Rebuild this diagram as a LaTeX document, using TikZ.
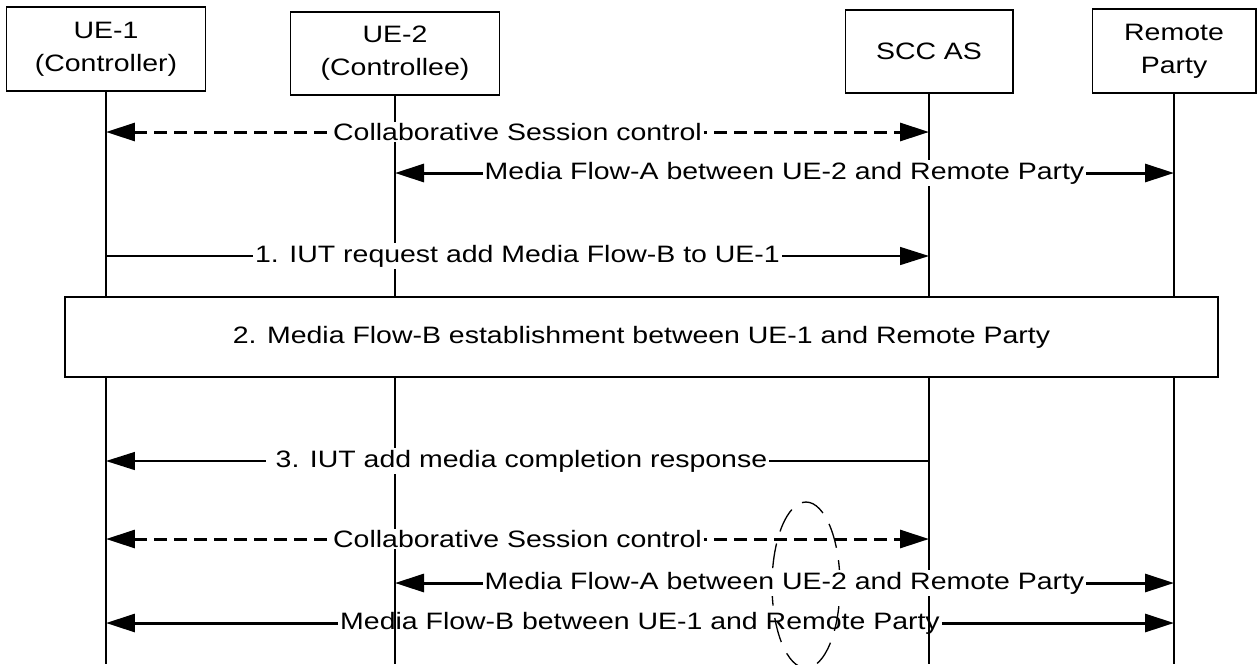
\documentclass[tikz,border=0pt]{standalone}
\usepackage{fontspec}
\setmainfont[FakeStretch=1.2]{Liberation Sans}
\usepackage{tikz}
\usetikzlibrary{arrows.meta, positioning, calc}
\tikzset{
	entity/.style   ={rectangle, draw=black, line width=0.6pt, fill=white, align=center, inner sep=1pt},
	lifeline/.style ={line width=1.1pt},
	procbox/.style  ={rectangle, draw=black, line width=0.9pt, fill=white, align=center, minimum width=23.06cm, minimum height=1.6cm},
	lbl/.style      ={fill=white, inner sep=1pt},
	ctrl/.style     ={{Triangle[length=0.58cm, width=0.36cm]}-{Triangle[length=0.58cm, width=0.36cm]}, line width=1.7pt, dash pattern=on 0.26cm off 0.14cm},
	media/.style    ={line width=1.7pt},
	req/.style      ={-{Triangle[length=0.58cm, width=0.36cm]}, line width=0.85pt},
	hilite/.style   ={line width=0.75pt, dash pattern=on 0.5cm off 0.25cm},
}

\begin{document}
\begin{tikzpicture}[x=0.02cm, y=-0.02cm, font=\fontsize{13.5pt}{18.7pt}\selectfont]
	\useasboundingbox (0,0) rectangle (1257,664);
	% entities
	\node[entity, minimum width=3.98cm, minimum height=1.68cm] (ue1) at (106,49) {UE-1\\(Controller)};
	\node[entity, minimum width=4.18cm, minimum height=1.66cm] (ue2) at (395,53.5) {UE-2\\(Controllee)};
	\node[entity, minimum width=3.36cm, minimum height=1.66cm] (scc) at (929,51.5) {SCC AS};
	\node[entity, minimum width=3.28cm, minimum height=1.68cm] (rp) at (1174,51) {Remote\\Party};
	\coordinate (bot) at (0,664);
	% lifelines
	\foreach \e in {ue1,ue2,scc,rp}
		\draw[lifeline] (\e.south) -- (\e |- bot);
	% highlight
	\draw[hilite] (806,585) ellipse [x radius=0.68cm, y radius=1.66cm];
	% message rows
	\coordinate (r1) at (0,132);
	\coordinate (r2) at (0,173);
	\coordinate (r3) at (0,256);
	\coordinate (r5) at (0,461);
	\coordinate (r6) at (0,539);
	\coordinate (r7) at (0,583);
	\draw[ctrl] (ue1 |- r1) -- node[lbl] {Collaborative Session control} (scc |- r1);
	\draw[media, {Triangle[length=0.58cm, width=0.36cm]}-{Triangle[length=0.58cm, width=0.36cm]}] (ue2 |- r2) -- node[lbl] {Media Flow-A between UE-2 and Remote Party} (rp |- r2);
	\draw[req] (ue1 |- r3) -- node[lbl] {1. IUT request add Media Flow-B to UE-1} (scc |- r3);
	\node[procbox] (est) at (641.5,337) {2. Media Flow-B establishment between UE-1 and Remote Party};
	\draw[req] (scc |- r5) -- node[lbl] {\ 3. IUT add media completion response} (ue1 |- r5);
	\draw[ctrl] (ue1 |- r6) -- node[lbl] {Collaborative Session control} (scc |- r6);
	\draw[media, {Triangle[length=0.58cm, width=0.36cm]}-{Triangle[length=0.58cm, width=0.36cm]}] (ue2 |- r7) -- node[lbl] {Media Flow-A between UE-2 and Remote Party} (rp |- r7);
	\node[inner sep=1pt] (flowb) at (640,623) {Media Flow-B between UE-1 and Remote Party};
	\draw[media, -{Triangle[length=0.58cm, width=0.36cm]}] (flowb.west) -- (ue1 |- flowb);
	\draw[media, -{Triangle[length=0.58cm, width=0.36cm]}] (flowb.east) -- (rp |- flowb);
\end{tikzpicture}
\end{document}
